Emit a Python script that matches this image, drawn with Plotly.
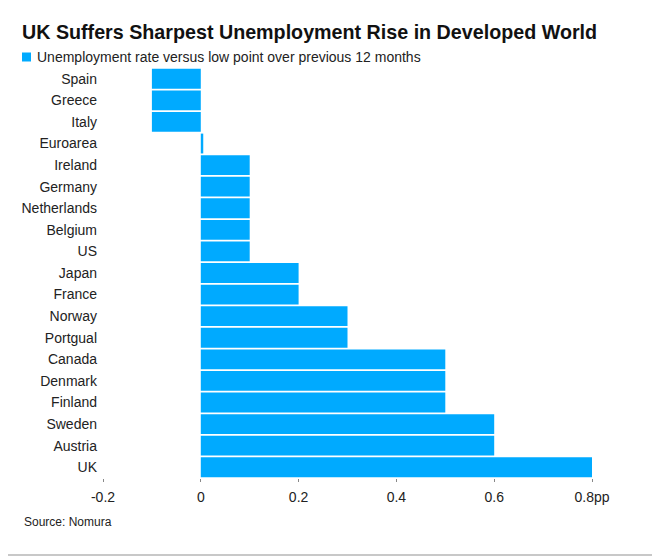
import plotly.graph_objects as go

countries = ["Spain", "Greece", "Italy", "Euroarea", "Ireland", "Germany", "Netherlands",
             "Belgium", "US", "Japan", "France", "Norway", "Portgual", "Canada", "Denmark",
             "Finland", "Sweden", "Austria", "UK"]
values = [-0.1, -0.1, -0.1, 0.005, 0.1, 0.1, 0.1, 0.1, 0.1, 0.2, 0.2, 0.3, 0.3,
          0.5, 0.5, 0.5, 0.6, 0.6, 0.8]
tick_vals = [-0.2, 0, 0.2, 0.4, 0.6, 0.8]
tick_text = ["-0.2", "0", "0.2", "0.4", "0.6", "0.8pp"]
series_name = "Unemployment rate versus low point over previous 12 months"

# page body has an 8px margin, so the figure is 652x548 placed at (8, 8)
OFF = 8
W, H = 660 - OFF, 556 - OFF
ml, mr, mt, mb = 95, 68, 60, 78
pw = W - ml - mr
ph = H - mt - mb

def px_x(p):
    return (p - OFF - ml) / pw

def px_y(p):
    return (H - mb - (p - OFF)) / ph

FONT = "Liberation Sans, Arial, sans-serif"
BLUE = "#00AAFF"

fig = go.Figure(go.Bar(
    x=values, y=countries, orientation="h",
    marker=dict(color=BLUE, line=dict(width=0)),
    name=series_name, showlegend=False,
))

fig.update_layout(
    width=W, height=H,
    margin=dict(l=ml, r=mr, t=mt, b=mb),
    paper_bgcolor="white", plot_bgcolor="white",
    font=dict(family=FONT, size=14, color="#222222"),
    bargap=0.08,
    title=dict(text="<b>UK Suffers Sharpest Unemployment Rise in Developed World</b>",
               font=dict(family=FONT, size=19.7, color="#111111"),
               x=(22 - OFF) / W, xanchor="left", xref="container",
               y=1 - (32 - OFF) / H, yanchor="middle", yref="container"),
    xaxis=dict(range=[-0.2, 0.8], tickvals=tick_vals, ticktext=tick_text,
               showgrid=False, zeroline=False, showline=False,
               ticks="outside", ticklen=3, tickcolor="#888888",
               ticklabelstandoff=3,
               tickfont=dict(size=14, color="#222222")),
    yaxis=dict(categoryorder="array", categoryarray=countries, autorange="reversed",
               showgrid=False, zeroline=False, showline=False, ticks="",
               ticklabelstandoff=5, tickfont=dict(size=14, color="#222222")),
    annotations=[
        dict(text=series_name, xref="paper", yref="paper",
             x=px_x(35), y=px_y(57), xanchor="left", yanchor="middle",
             showarrow=False, font=dict(size=14, color="#222222")),
        dict(text="Source: Nomura", xref="paper", yref="paper",
             x=px_x(22), y=px_y(522), xanchor="left", yanchor="middle",
             showarrow=False, font=dict(size=12, color="#222222")),
    ],
    shapes=[
        dict(type="rect", xref="paper", yref="paper", x0=px_x(22), x1=px_x(31),
             y0=px_y(61.5), y1=px_y(52.5), fillcolor=BLUE, line=dict(width=0)),
        dict(type="line", xref="paper", yref="paper", x0=px_x(659), x1=px_x(659),
             y0=px_y(8), y1=px_y(556), line=dict(color="#c8c8c8", width=2)),
        dict(type="line", xref="paper", yref="paper", x0=px_x(8), x1=px_x(660),
             y0=px_y(555), y1=px_y(555), line=dict(color="#c8c8c8", width=2)),
    ],
)

fig.write_html("out.html")
